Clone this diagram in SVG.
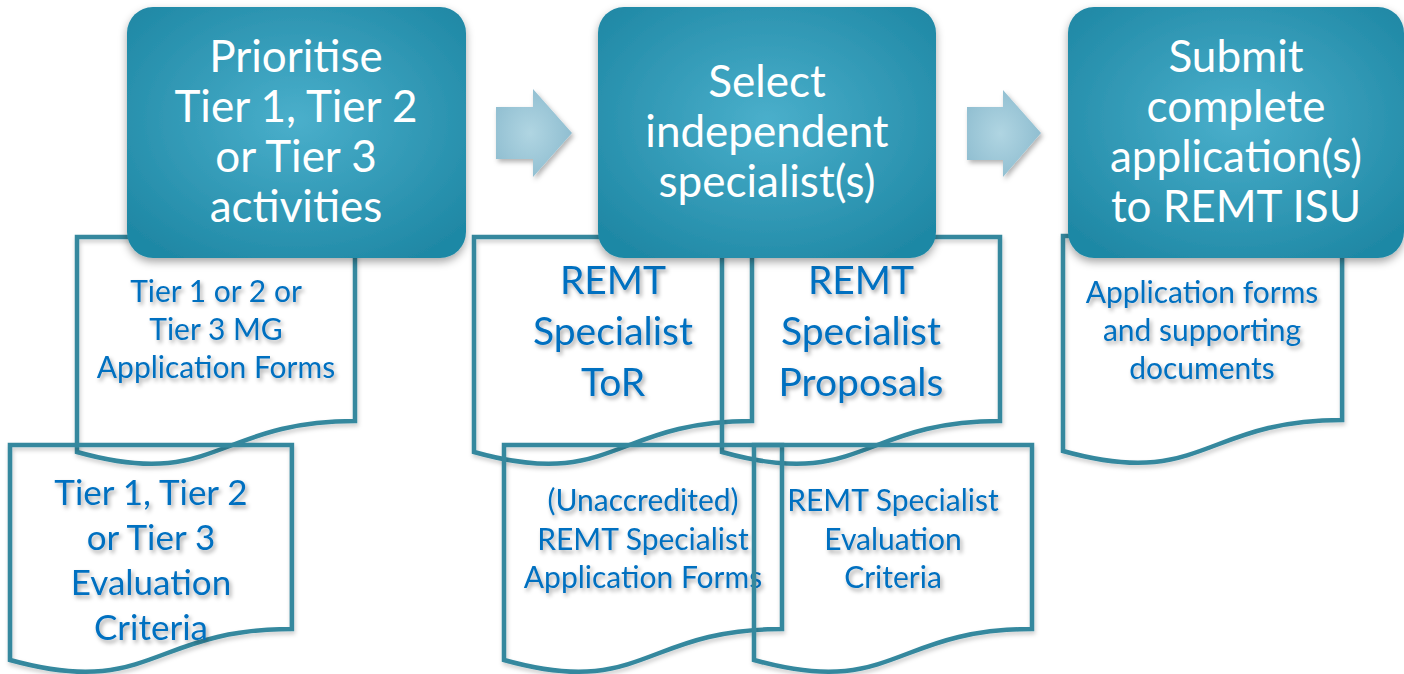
<svg xmlns="http://www.w3.org/2000/svg" width="1404" height="674" viewBox="0 0 1404 674">
<defs>
  <radialGradient id="boxGrad" cx="50%" cy="45%" r="65%">
    <stop offset="0" stop-color="#4aafcb"/>
    <stop offset="1" stop-color="#1f88a5"/>
  </radialGradient>
  <radialGradient id="arrowGrad" cx="45%" cy="50%" r="60%">
    <stop offset="0" stop-color="#b0d5e2"/>
    <stop offset="1" stop-color="#8dbccf"/>
  </radialGradient>
  <filter id="boxShadow" x="-10%" y="-10%" width="120%" height="125%">
    <feDropShadow dx="0" dy="4" stdDeviation="4" flood-color="#000" flood-opacity="0.35"/>
  </filter>
  <filter id="arrowShadow" x="-20%" y="-20%" width="150%" height="150%">
    <feDropShadow dx="2" dy="3" stdDeviation="2.5" flood-color="#000" flood-opacity="0.3"/>
  </filter>
  <filter id="textShadow" x="-10%" y="-20%" width="120%" height="150%">
    <feDropShadow dx="2" dy="3" stdDeviation="2" flood-color="#000" flood-opacity="0.35"/>
  </filter>
  <filter id="lineShadow" x="-5%" y="-5%" width="110%" height="115%">
    <feDropShadow dx="1" dy="3" stdDeviation="2" flood-color="#000" flood-opacity="0.2"/>
  </filter>
  <path id="docShape" d="M0,0 H278 V184 C139,184 139,254 0,215 Z"/>
</defs>
<style>
  .doc { fill: none; stroke: #34889e; stroke-width: 4.5; stroke-linejoin: miter; filter: url(#lineShadow); }
  .box { fill: url(#boxGrad); filter: url(#boxShadow); }
  .arrow { fill: url(#arrowGrad); filter: url(#arrowShadow); }
  .boxText { fill: #ffffff; font-family: Lato, "Open Sans", sans-serif; font-size: 44px; text-anchor: middle; }
  .docText { fill: #0070c0; font-family: Lato, "Open Sans", sans-serif; text-anchor: middle; filter: url(#textShadow); }
  .s28 { font-size: 30px; }
  .s36 { font-size: 39px; }
  .s33 { font-size: 35px; }
</style>
<rect width="1404" height="674" fill="#ffffff"/>

<!-- documents -->
<g id="doc-tier-forms">
  <use href="#docShape" class="doc" transform="translate(77,237)"/>
  <text class="docText s28" x="216"><tspan x="216" y="302">Tier 1 or 2 or</tspan><tspan x="216" y="340">Tier 3 MG</tspan><tspan x="216" y="378">Application Forms</tspan></text>
</g>
<g id="doc-tier-eval">
  <use href="#docShape" class="doc" transform="translate(10,445) scale(1.014,1)"/>
  <text class="docText s33" x="151"><tspan x="151" y="505">Tier 1, Tier 2</tspan><tspan x="151" y="550">or Tier 3</tspan><tspan x="151" y="595">Evaluation</tspan><tspan x="151" y="640">Criteria</tspan></text>
</g>
<g id="doc-tor">
  <use href="#docShape" class="doc" transform="translate(474,237)"/>
  <text class="docText s36" x="613"><tspan x="613" y="294">REMT</tspan><tspan x="613" y="345">Specialist</tspan><tspan x="613" y="396">ToR</tspan></text>
</g>
<g id="doc-proposals">
  <use href="#docShape" class="doc" transform="translate(722,237)"/>
  <text class="docText s36" x="861"><tspan x="861" y="294">REMT</tspan><tspan x="861" y="345">Specialist</tspan><tspan x="861" y="396">Proposals</tspan></text>
</g>
<g id="doc-unaccredited">
  <use href="#docShape" class="doc" transform="translate(504,445)"/>
  <text class="docText s28" x="643"><tspan x="643" y="511">(Unaccredited)</tspan><tspan x="643" y="550">REMT Specialist</tspan><tspan x="643" y="588">Application Forms</tspan></text>
</g>
<g id="doc-specialist-eval">
  <use href="#docShape" class="doc" transform="translate(754,445)"/>
  <text class="docText s28" x="893"><tspan x="893" y="511">REMT Specialist</tspan><tspan x="893" y="550">Evaluation</tspan><tspan x="893" y="588">Criteria</tspan></text>
</g>
<g id="doc-app-forms">
  <use href="#docShape" class="doc" transform="translate(1063,236) scale(1.004,1)"/>
  <text class="docText s28" x="1202"><tspan x="1202" y="303">Application forms</tspan><tspan x="1202" y="341">and supporting</tspan><tspan x="1202" y="379">documents</tspan></text>
</g>

<!-- connectors -->
<g id="connectors">
  <path class="arrow" d="M496,107 H533 V89 L572,133 L533,177 V159 H496 Z"/>
  <path class="arrow" d="M967,107 H1003 V90 L1041,133 L1003,177 V160 H967 Z"/>
</g>

<!-- main step boxes -->
<g id="step-prioritise">
  <rect class="box" x="127" y="7" width="339" height="251" rx="26"/>
  <text class="boxText" x="296"><tspan x="296" y="72">Prioritise</tspan><tspan x="296" y="122">Tier 1, Tier 2</tspan><tspan x="296" y="172">or Tier 3</tspan><tspan x="296" y="222">activities</tspan></text>
</g>
<g id="step-select">
  <rect class="box" x="598" y="7" width="338" height="251" rx="26"/>
  <text class="boxText" x="767"><tspan x="767" y="97">Select</tspan><tspan x="767" y="147">independent</tspan><tspan x="767" y="197">specialist(s)</tspan></text>
</g>
<g id="step-submit">
  <rect class="box" x="1068" y="7" width="336" height="251" rx="26"/>
  <text class="boxText" x="1236"><tspan x="1236" y="72">Submit</tspan><tspan x="1236" y="122">complete</tspan><tspan x="1236" y="172">application(s)</tspan><tspan x="1236" y="222">to REMT ISU</tspan></text>
</g>
</svg>
